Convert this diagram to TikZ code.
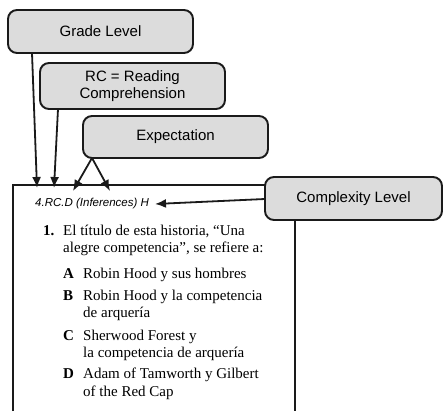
\documentclass[tikz,border=0pt]{standalone}
\usepackage{fontspec}
\setmainfont{Liberation Serif}
\newfontfamily\boxfont{Liberation Sans}
\usetikzlibrary{arrows.meta}
\definecolor{boxgray}{HTML}{DCDCDC}
\definecolor{edge}{HTML}{1A1A1A}
\begin{document}
\begin{tikzpicture}[x=1pt,y=-1pt,
  callout/.style={draw=edge, line width=1.9pt, fill=boxgray, rounded corners=9pt,
    inner sep=0pt, align=center, font=\boxfont\fontsize{15}{16.5}\selectfont},
  conn/.style={draw=edge, line width=1.8pt, -{Latex[length=11pt,width=9pt]}},
  body/.style={anchor=base west, inner sep=0pt, font=\fontsize{15}{17}\selectfont},
  code/.style={anchor=base west, inner sep=0pt, font=\boxfont\itshape\fontsize{11.5}{13}\selectfont}]
\useasboundingbox (0,0) rectangle (443,411);
% question frame (open at the bottom)
\draw[draw=edge, line width=1.9pt] (13,411) -- (13,185) -- (295,185) -- (295,411);
% callout boxes
\node[callout, minimum width=185pt, minimum height=43pt] (grade) at (100.5,31.5) {Grade Level};
\node[callout, minimum width=185pt, minimum height=46pt] (rc) at (132.5,86) {RC = Reading\\Comprehension};
\node[callout, minimum width=185pt, minimum height=42pt] (expect) at (175.5,137) {Expectation};
\node[callout, minimum width=177pt, minimum height=43pt] (complex) at (353.5,198.5) {Complexity Level};
% code label
\node[code] (codelbl) at (35,207) {4.RC.D (Inferences) H};
% connector ends
\coordinate (gs) at (32,53);
\coordinate (gt) at (37,188);
\coordinate (rs) at (58,109);
\coordinate (rt) at (54,188);
\coordinate (es) at (92,158);
\coordinate (et1) at (73,191);
\coordinate (et2) at (110,191);
\coordinate (cs) at (265,199);
\coordinate (ct) at (155,204);
\draw[conn] (gs) -- (gt);
\draw[conn] (rs) -- (rt);
\draw[conn] (es) -- (et1);
\draw[conn] (es) -- (et2);
\draw[conn] (cs) -- (ct);
% question text
\node[body] (qnum) at (43,235) {\textbf{1.}};
\node[body] (ql1) at (63,235) {El título de esta historia, “Una};
\node[body] (ql2) at (63,252) {alegre competencia”, se refiere a:};
\node[body] (la) at (63,278) {\textbf{A}};
\node[body] (ta) at (83,278) {Robin Hood y sus hombres};
\node[body] (lb) at (63,300) {\textbf{B}};
\node[body] (tb1) at (83,300) {Robin Hood y la competencia};
\node[body] (tb2) at (83,317) {de arquería};
\node[body] (lc) at (63,340) {\textbf{C}};
\node[body] (tc1) at (83,340) {Sherwood Forest y};
\node[body] (tc2) at (83,357) {la competencia de arquería};
\node[body] (ld) at (63,378) {\textbf{D}};
\node[body] (td1) at (83,378) {Adam of Tamworth y Gilbert};
\node[body] (td2) at (83,396) {of the Red Cap};
\end{tikzpicture}
\end{document}
